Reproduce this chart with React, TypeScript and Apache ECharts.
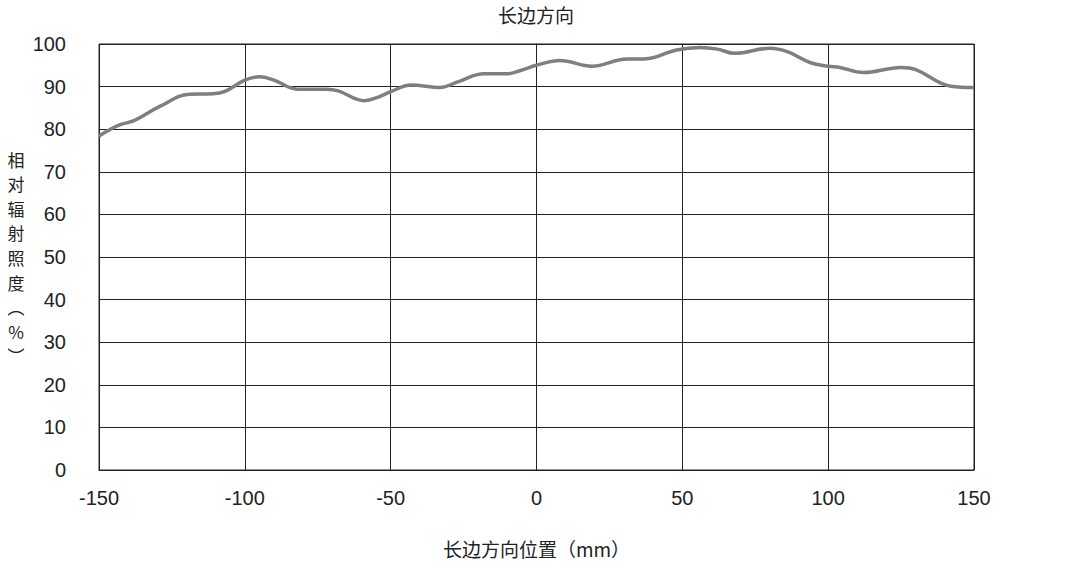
import { useEffect, useRef } from 'react';
import * as echarts from 'echarts';

// position along the long side (mm) and relative irradiance (%)
const positions = [
  -150, -143, -138, -129, -119, -111, -107, -100, -95, -90, -82, -72, -68, -59, -54, -50, -43, -33, -27, -18,
  -10, -5, 0, 8, 19, 31, 37, 48, 56, 62, 68, 80, 86, 94, 100, 104, 112, 125, 130, 142, 150,
];
const irradiance = [
  78.4, 81.0, 82.0, 85.4, 88.2, 88.3, 88.8, 91.5, 92.3, 91.5, 89.4, 89.4, 89.0, 86.7, 87.6, 88.8, 90.4, 89.8, 91.1, 93.0,
  93.0, 93.9, 95.0, 96.1, 94.8, 96.5, 96.5, 98.6, 99.2, 98.8, 97.8, 99.0, 98.2, 95.6, 94.8, 94.5, 93.3, 94.5, 94.0, 90.1, 89.8,
];

const titleText = '长边方向';
const xName = '长边方向位置（mm）';
const yNameChars = ['相', '对', '辐', '射', '照', '度', '︵', '%', '︶'];

const latin = '"Liberation Sans", Arial, sans-serif';
const cjk = '"Noto Sans CJK SC", "Liberation Sans", sans-serif';
const ink = '#222';

export default function App() {
  const chartRef = useRef(null);

  useEffect(() => {
    document.body.style.margin = '0';
    const chart = echarts.init(chartRef.current, null, { renderer: 'svg' });

    // vertical axis title, one character per text element
    const yNameTexts = yNameChars.map((ch, i) => ({
      type: 'text',
      x: 16,
      y: 159 + i * 24.6,
      style: {
        text: ch,
        fontFamily: cjk,
        fontSize: 17,
        textAlign: 'center',
        textVerticalAlign: 'middle',
        fill: ink,
      },
    }));

    const option = {
      animation: false,
      title: {
        text: titleText,
        left: 'center',
        top: 0,
        textStyle: { fontFamily: cjk, fontSize: 19, fontWeight: 'normal', color: ink },
      },
      grid: {
        left: 99,
        right: 98,
        top: 44,
        bottom: 104,
        containLabel: false,
        outerBoundsMode: 'none',
        show: true,
        borderColor: ink,
        borderWidth: 1,
      },
      xAxis: {
        type: 'value',
        min: -150,
        max: 150,
        interval: 50,
        name: xName,
        nameLocation: 'middle',
        nameGap: 69,
        nameTextStyle: { fontFamily: cjk, fontSize: 19, color: ink },
        axisLine: { show: true, lineStyle: { color: ink, width: 1 } },
        axisTick: { show: false },
        axisLabel: { margin: 18, fontFamily: latin, fontSize: 20, color: ink },
        splitLine: { show: true, lineStyle: { color: ink, width: 1 } },
      },
      yAxis: {
        type: 'value',
        min: 0,
        max: 100,
        interval: 10,
        axisLine: { show: true, lineStyle: { color: ink, width: 1 } },
        axisTick: { show: false },
        axisLabel: { margin: 33, fontFamily: latin, fontSize: 20, color: ink },
        splitLine: { show: true, lineStyle: { color: ink, width: 1 } },
      },
      graphic: yNameTexts,
      series: [
        {
          type: 'line',
          data: positions.map((p, i) => [p, irradiance[i]]),
          smooth: 0.4,
          showSymbol: false,
          lineStyle: { color: '#7f7f7f', width: 3.5 },
        },
      ],
    };

    chart.setOption(option);
    return () => {
      chart.dispose();
    };
  }, []);

  return <div ref={chartRef} style={{ width: '1072px', height: '574px' }} />;
}
